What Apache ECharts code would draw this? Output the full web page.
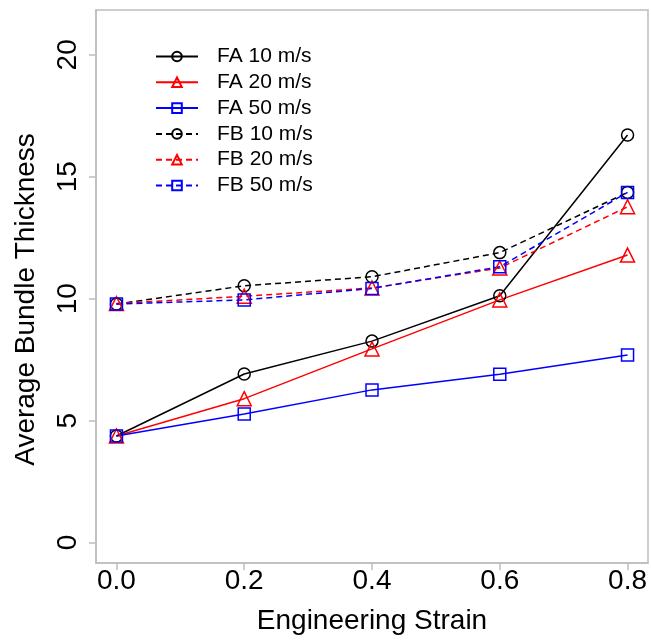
<!DOCTYPE html>
<html>
<head>
<meta charset="utf-8">
<script src="https://cdn.jsdelivr.net/npm/echarts@6/dist/echarts.min.js"></script>
<style>
html,body{margin:0;padding:0;background:#fff;}
#chart{width:651px;height:641px;}
</style>
</head>
<body>
<div id="chart"></div>
<script>
const strain = [0, 0.2, 0.4, 0.6, 0.8];
const xTicks = [0, 0.2, 0.4, 0.6, 0.8];
const yTicks = [0, 5, 10, 15, 20];
const seriesNames = ['FA 10 m/s', 'FA 20 m/s', 'FA 50 m/s', 'FB 10 m/s', 'FB 20 m/s', 'FB 50 m/s'];
const fa10 = [4.37, 6.91, 8.26, 10.12, 16.71];
const fa20 = [4.37, 5.90, 7.94, 9.95, 11.79];
const fa50 = [4.37, 5.27, 6.26, 6.90, 7.69];
const fb10 = [9.78, 10.53, 10.90, 11.89, 14.36];
const fb20 = [9.80, 10.10, 10.44, 11.26, 13.77];
const fb50 = [9.78, 9.95, 10.42, 11.31, 14.36];

const FONT = '"Liberation Sans", Arial, sans-serif';
const styles = [
  {data: fa10, color: '#000000', symbol: 'circle', dash: 'solid'},
  {data: fa20, color: '#ff0000', symbol: 'triangle', dash: 'solid'},
  {data: fa50, color: '#0000ff', symbol: 'rect', dash: 'solid'},
  {data: fb10, color: '#000000', symbol: 'circle', dash: [6, 4]},
  {data: fb20, color: '#ff0000', symbol: 'triangle', dash: [6, 4]},
  {data: fb50, color: '#0000ff', symbol: 'rect', dash: [6, 4]}
];

const series = styles.map((s, i) => ({
  name: seriesNames[i],
  type: 'line',
  data: strain.map((x, j) => [x, s.data[j]]),
  symbol: s.symbol,
  symbolSize: s.symbol === 'triangle' ? 14 : 12,
  showAllSymbol: true,
  lineStyle: {color: s.color, width: 1.5, type: s.dash},
  itemStyle: {color: 'rgba(0,0,0,0)', borderColor: s.color, borderWidth: 1.5},
  emphasis: {disabled: true},
  animation: false
}));

const chart = echarts.init(document.getElementById('chart'), null, {renderer: 'canvas'});
chart.setOption({
  backgroundColor: '#fff',
  animation: false,
  grid: {left: 96, right: 3, top: 10, bottom: 78, show: true, borderColor: '#bdbdbd', borderWidth: 1.5, backgroundColor: 'transparent'},
  legend: {
    orient: 'vertical',
    left: 150,
    top: 41,
    itemWidth: 42,
    itemHeight: 12,
    itemGap: 4.8,
    data: seriesNames,
    textStyle: {fontFamily: FONT, fontSize: 21, color: '#000', lineHeight: 21, padding: [0, 0, 0, 14]}
  },
  xAxis: {
    type: 'value',
    min: -0.032,
    max: 0.832,
    name: 'Engineering Strain',
    nameLocation: 'middle',
    nameGap: 44,
    nameTextStyle: {fontFamily: FONT, fontSize: 28, color: '#000'},
    axisLine: {show: true, onZero: false, lineStyle: {color: '#bdbdbd', width: 1.5}},
    axisTick: {show: true, length: 7, customValues: xTicks, lineStyle: {color: '#bdbdbd', width: 1.5}},
    axisLabel: {customValues: xTicks, fontFamily: FONT, fontSize: 28, color: '#000', margin: 4, formatter: v => v.toFixed(1)},
    splitLine: {show: false}
  },
  yAxis: {
    type: 'value',
    min: -0.84,
    max: 21.84,
    name: 'Average Bundle Thickness',
    nameLocation: 'middle',
    nameGap: 56,
    nameTextStyle: {fontFamily: FONT, fontSize: 28, color: '#000', padding: [0, 26, 0, 0]},
    axisLine: {show: true, onZero: false, lineStyle: {color: '#bdbdbd', width: 1.5}},
    axisTick: {show: true, length: 7, customValues: yTicks, lineStyle: {color: '#bdbdbd', width: 1.5}},
    axisLabel: {customValues: yTicks, fontFamily: FONT, fontSize: 28, color: '#000', rotate: 90, margin: 14},
    splitLine: {show: false}
  },
  series: series
});
</script>
</body>
</html>
